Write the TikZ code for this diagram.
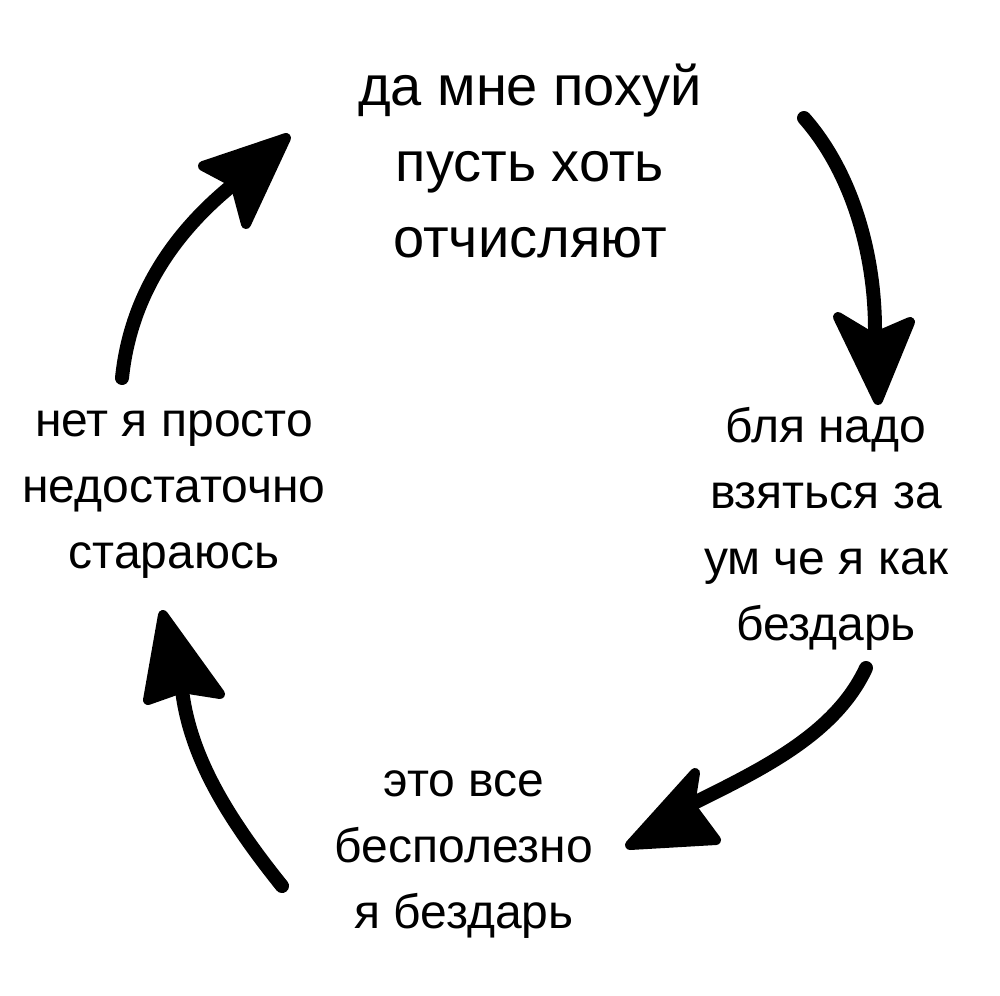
\documentclass[tikz,border=0pt]{standalone}
\usepackage{fontspec}
\setmainfont{Liberation Sans}
\begin{document}
\begin{tikzpicture}[x=1pt,y=-1pt,
  bigtxt/.style={align=center, anchor=base, inner sep=0pt, font=\fontsize{56}{76}\selectfont},
  txt/.style={align=center, anchor=base, inner sep=0pt, font=\fontsize{48}{66}\selectfont},
  shaft/.style={line width=14pt, line cap=round, line join=round, black},
  head/.style={fill=black, draw=black, line width=10pt, line join=round}]
\fill[white] (0,0) rectangle (1000,995);
\useasboundingbox (0,0) rectangle (1000,995);

\node[bigtxt] (top) at (530,257) {да мне похуй\\пусть хоть\\отчисляют};
\node[txt] (right) at (826,640) {бля надо\\взяться за\\ум че я как\\бездарь};
\node[txt] (bottom) at (464,928) {это все\\бесполезно\\я бездарь};
\node[txt] (left) at (174,568) {нет я просто\\недостаточно\\стараюсь};

% arrow top -> right
\coordinate (a1s) at (804,118);
\coordinate (a1n) at (875,330);
\draw[shaft] (a1s) .. controls (850,170) and (875,250) .. (a1n);
\filldraw[head] (838,317) -- (873,338) -- (910,322) -- (878,400) -- cycle;

% arrow right -> bottom
\coordinate (a2s) at (866,668);
\coordinate (a2n) at (690,805);
\draw[shaft] (a2s) .. controls (835,735) and (760,770) .. (a2n);
\filldraw[head] (695,773) -- (690,805) -- (716,840) -- (630,845) -- cycle;

% arrow bottom -> left
\coordinate (a3s) at (282,886);
\coordinate (a3n) at (182,690);
\draw[shaft] (a3s) .. controls (225,815) and (190,755) .. (a3n);
\filldraw[head] (148,700) -- (182,688) -- (220,694) -- (163,615) -- cycle;

% arrow left -> top
\coordinate (a4s) at (122,378);
\coordinate (a4n) at (235,183);
\draw[shaft] (a4s) .. controls (130,300) and (170,235) .. (a4n);
\filldraw[head] (203,166) -- (235,183) -- (246,224) -- (286,138) -- cycle;
\end{tikzpicture}
\end{document}
